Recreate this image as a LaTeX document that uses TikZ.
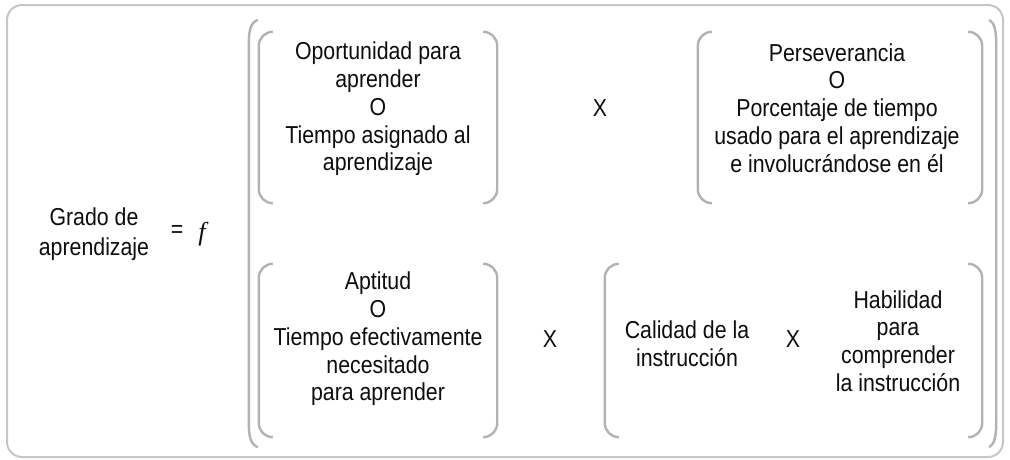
\documentclass[tikz,border=0pt]{standalone}
\usepackage{fontspec}
\setmainfont{Liberation Sans}[FakeStretch=0.87]
\newfontfamily\fserif{Liberation Serif}
\begin{document}
\begin{tikzpicture}[x=1pt,y=-1pt,
  txt/.style={align=center,inner sep=0pt,text=black!95,font=\fontsize{24.5}{27.8}\selectfont},
  boxarea/.style={draw=none,inner sep=0pt,minimum width=#1},
  brk/.style={draw=gray!60,line width=2.4pt,rounded corners=14pt},
  bigbrk/.style={draw=gray!60,line width=2.4pt},
  frame/.style={draw=gray!45,line width=2pt,rounded corners=15pt}]
\useasboundingbox (0,0) rectangle (1010,459);
\node[frame,minimum width=996pt,minimum height=452pt] (outer) at (505,231) {};
% bracket areas
\node[boxarea=238pt,minimum height=171pt] (b1) at (378,117.5) {};
\node[boxarea=284pt,minimum height=171pt] (b2) at (840,117.5) {};
\node[boxarea=238pt,minimum height=173pt] (b3) at (378,350.5) {};
\node[boxarea=377pt,minimum height=173pt] (b4) at (793.5,350.5) {};
\node[boxarea=747pt,minimum height=427pt] (B) at (622.5,233.5) {};
% small brackets
\foreach \b in {b1,b2,b3,b4}{
  \draw[brk] ([xshift=14pt]\b.north west) -- (\b.north west) -- (\b.south west) -- ([xshift=14pt]\b.south west);
  \draw[brk] ([xshift=-14pt]\b.north east) -- (\b.north east) -- (\b.south east) -- ([xshift=-14pt]\b.south east);
}
% big bracket
\draw[bigbrk] ([xshift=9pt]B.north west) .. controls ([xshift=2pt,yshift=-3pt]B.north west) and ([yshift=-10pt]B.north west) .. ([yshift=-24pt]B.north west)
  -- ([yshift=24pt]B.south west) .. controls ([yshift=10pt]B.south west) and ([xshift=2pt,yshift=3pt]B.south west) .. ([xshift=9pt]B.south west);
\draw[bigbrk] ([xshift=-7pt]B.north east) .. controls ([xshift=-2pt,yshift=-3pt]B.north east) and ([yshift=-10pt]B.north east) .. ([yshift=-24pt]B.north east)
  -- ([yshift=24pt]B.south east) .. controls ([yshift=10pt]B.south east) and ([xshift=-2pt,yshift=3pt]B.south east) .. ([xshift=-7pt]B.south east);
% texts
\node[txt,font=\fontsize{24.5}{29.5}\selectfont] (g) at (94,234) {Grado de\\aprendizaje};
\node[txt] (eq) at (177,231) {=};
\node[txt,font=\fontsize{26}{28}\fserif\itshape] (f) at (202,234) {f};
\node[txt] (t1) at (378,109) {Oportunidad para\\aprender\\O\\Tiempo asignado al\\aprendizaje};
\node[txt] (x1) at (600,108) {X};
\node[txt] (t2) at (837,108) {Perseverancia\\O\\Porcentaje de tiempo\\usado para el aprendizaje\\e involucrándose en él};
\node[txt] (t3) at (378,339) {Aptitud\\O\\Tiempo efectivamente\\necesitado\\para aprender};
\node[txt] (x2) at (550,339) {X};
\node[txt] (t4) at (687,344) {Calidad de la\\instrucción};
\node[txt] (x3) at (793,339) {X};
\node[txt] (t5) at (898,341) {Habilidad\\para\\comprender\\la instrucción};
\end{tikzpicture}
\end{document}
